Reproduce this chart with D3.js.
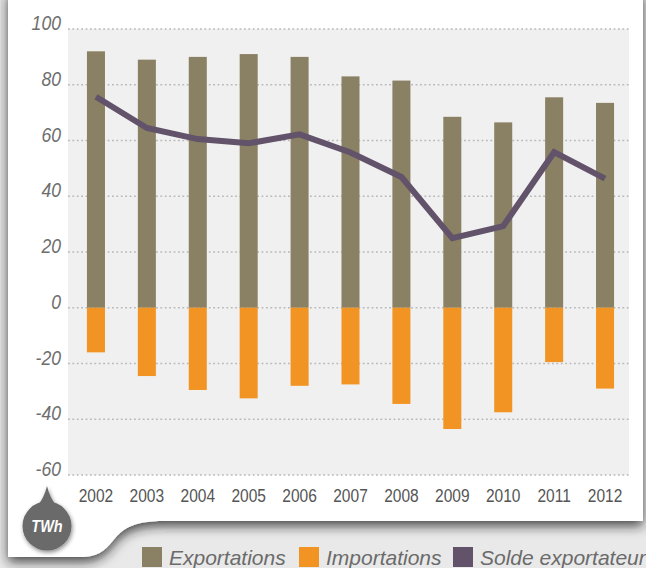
<!DOCTYPE html>
<html><head><meta charset="utf-8">
<script src="https://cdn.jsdelivr.net/npm/d3@7"></script>
<style>
html,body{margin:0;padding:0;background:#e8e8e8;}
svg{display:block;}
</style></head>
<body>
<svg id="chart" width="646" height="568"></svg>
<script>
const years = ["2002","2003","2004","2005","2006","2007","2008","2009","2010","2011","2012"];
const exportations = [92, 89, 90, 91, 90, 83, 81.5, 68.5, 66.5, 75.5, 73.5];
const importations = [-16, -24.5, -29.5, -32.5, -28, -27.5, -34.5, -43.5, -37.5, -19.5, -29];
const solde = [75.7, 64.5, 60.5, 59, 62.2, 55.7, 46.9, 25, 29.3, 55.8, 46.3];
const yTicks = [100, 80, 60, 40, 20, 0, -20, -40, -60];
const legendLabels = ["Exportations", "Importations", "Solde exportateur"];
const colors = {exp: "#8a8063", imp: "#f29423", sol: "#62536a"};

const svg = d3.select("#chart");
const defs = svg.append("defs");

svg.append("rect").attr("width",646).attr("height",568).attr("fill","#e9e9e9");

const sh = defs.append("filter").attr("id","cardShadow").attr("x","-10%").attr("y","-10%").attr("width","120%").attr("height","130%");
sh.append("feDropShadow").attr("dx",0).attr("dy",5).attr("stdDeviation",6).attr("flood-color","#222").attr("flood-opacity",0.8);

const bsh = defs.append("filter").attr("id","badgeShadow").attr("x","-50%").attr("y","-50%").attr("width","200%").attr("height","200%");
bsh.append("feDropShadow").attr("dx",1).attr("dy",2).attr("stdDeviation",2).attr("flood-color","#000").attr("flood-opacity",0.45);

// white card with wave at bottom-left
svg.append("path")
  .attr("d","M8,-10 H643 V521 H165 C130,521 122,530 112,542 C104,551 98,557 80,557 H8 Z")
  .attr("fill","#ffffff")
  .attr("filter","url(#cardShadow)");

const y = d3.scaleLinear().domain([-60, 100]).range([475, 29]);
const x = d3.scaleBand().domain(years).range([70.5, 630.5]).padding(0);
const bw = x.bandwidth() * 0.354;
const plotL = 68, plotR = 629;

svg.append("rect").attr("x",plotL).attr("y",y(100)).attr("width",plotR-plotL).attr("height",y(-60)-y(100)).attr("fill","#f0f0f0");

svg.append("g").selectAll("line").data(yTicks).join("line")
  .attr("x1",plotL).attr("x2",plotR)
  .attr("y1",d=>y(d)).attr("y2",d=>y(d))
  .attr("stroke","#b8b8b8").attr("stroke-width",1.6).attr("stroke-dasharray","1.8,2.6");

// y labels (condensed via horizontal scale)
svg.append("g").selectAll("text").data(yTicks).join("text")
  .attr("transform",d=>`translate(61,${y(d)+1}) scale(0.84,1)`)
  .attr("text-anchor","end")
  .attr("font-family","'Liberation Sans',Arial,sans-serif")
  .attr("font-style","italic").attr("font-size",21).attr("fill","#6e6e6e")
  .text(d=>d);

const bars = svg.append("g");
bars.selectAll("rect.exp").data(years).join("rect").attr("class","exp")
  .attr("x",d=>x(d)+x.bandwidth()/2-bw/2).attr("width",bw)
  .attr("y",(d,i)=>y(exportations[i])).attr("height",(d,i)=>y(0)-y(exportations[i]))
  .attr("fill",colors.exp);
bars.selectAll("rect.imp").data(years).join("rect").attr("class","imp")
  .attr("x",d=>x(d)+x.bandwidth()/2-bw/2).attr("width",bw)
  .attr("y",y(0)).attr("height",(d,i)=>y(importations[i])-y(0))
  .attr("fill",colors.imp);

const line = d3.line().x((d,i)=>x(years[i])+x.bandwidth()/2).y(d=>y(d));
svg.append("path").datum(solde).attr("d",line)
  .attr("fill","none").attr("stroke",colors.sol).attr("stroke-width",6).attr("stroke-linejoin","miter");

// x labels
svg.append("g").selectAll("text").data(years).join("text")
  .attr("transform",d=>`translate(${x(d)+x.bandwidth()/2},502) scale(0.84,1)`)
  .attr("text-anchor","middle")
  .attr("font-family","'Liberation Sans',Arial,sans-serif")
  .attr("font-size",18.5).attr("fill","#555")
  .text(d=>d);

// TWh badge
const badge = svg.append("g").attr("transform","translate(47,526)").attr("filter","url(#badgeShadow)");
badge.append("path").attr("d","M-9,-21 Q-3,-28 0,-40 Q3,-28 9,-21 Z").attr("fill","#6a6a6a");
badge.append("circle").attr("r",24.5).attr("fill","#6a6a6a");
svg.append("text").attr("transform","translate(47,532) scale(0.85,1)").attr("text-anchor","middle")
  .attr("font-family","'Liberation Sans',Arial,sans-serif")
  .attr("font-weight","bold").attr("font-style","italic").attr("font-size",17).attr("fill","#fff")
  .text("TWh");

// legend
const legX = [142, 299, 453];
const legColors = [colors.exp, colors.imp, colors.sol];
const leg = svg.append("g");
legendLabels.forEach((lab,i)=>{
  leg.append("rect").attr("x",legX[i]).attr("y",547).attr("width",20).attr("height",20).attr("fill",legColors[i]);
  leg.append("text").attr("x",legX[i]+27).attr("y",565)
    .attr("font-family","'Liberation Sans',Arial,sans-serif").attr("font-style","italic")
    .attr("font-size",21).attr("fill","#6b6b6b").text(lab);
});
</script>
</body></html>
